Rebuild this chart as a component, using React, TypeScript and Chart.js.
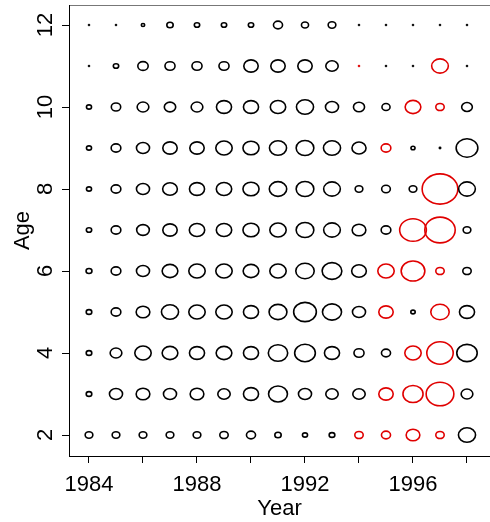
import React, { useEffect, useRef } from 'react';
import { Chart, registerables } from 'chart.js';

Chart.register(...registerables);

const years = [1984, 1985, 1986, 1987, 1988, 1989, 1990, 1991, 1992, 1993, 1994, 1995, 1996, 1997, 1998];
const ages = [2, 3, 4, 5, 6, 7, 8, 9, 10, 11, 12];

// signed residuals (negative drawn red)
const age2 = [0.93, 0.93, 0.93, 0.93, 0.93, 1.0, 1.07, 0.8, 0.67, 0.73, -1.0, -1.07, -1.53, -1.0, 1.87];
const age3 = [0.72, 1.47, 1.53, 1.47, 1.53, 1.4, 1.67, 2.05, 1.47, 1.4, 1.4, -1.6, -2.17, -2.93, 1.33];
const age4 = [0.72, 1.33, 1.8, 1.73, 1.67, 1.73, 1.67, 2.1, 2.23, 1.67, 1.17, 1.07, -1.8, -2.8, 2.2];
const age5 = [0.72, 1.13, 1.53, 1.87, 1.8, 1.8, 1.67, 1.95, 2.43, 2.07, 1.47, -1.6, 0.6, -2.0, 1.67];
const age6 = [0.75, 1.13, 1.47, 1.73, 1.8, 1.8, 1.73, 1.8, 2.0, 2.13, 1.63, -1.8, -2.53, -1.0, 1.0];
const age7 = [0.7, 1.13, 1.43, 1.6, 1.7, 1.7, 1.77, 1.8, 1.93, 1.83, 1.53, 1.13, -2.83, -3.2, 0.93];
const age8 = [0.67, 1.13, 1.47, 1.63, 1.67, 1.7, 1.77, 1.9, 1.93, 1.83, 0.93, 1.03, 0.93, -3.73, 1.83];
const age9 = [0.67, 1.13, 1.47, 1.6, 1.6, 1.8, 1.77, 1.87, 1.93, 1.87, 1.57, -1.13, 0.57, 0.3, 2.33];
const age10 = [0.67, 1.1, 1.33, 1.3, 1.33, 1.67, 1.67, 1.7, 1.87, 1.47, 1.27, 0.97, -1.73, -1.0, 1.23];
const age11 = [0.15, 0.7, 1.2, 1.17, 1.17, 1.17, 1.6, 1.6, 1.6, 1.4, -0.2, 0.15, 0.2, -1.83, 0.15];
const age12 = [0.15, 0.15, 0.5, 0.8, 0.7, 0.7, 0.7, 1.07, 0.87, 0.93, 0.2, 0.15, 0.2, 0.2, 0.2];

const residualsByAge = [age2, age3, age4, age5, age6, age7, age8, age9, age10, age11, age12];

const xLabelYears = [1984, 1988, 1992, 1996];
const yTickLabels = [2, 4, 6, 8, 10, 12];

const FONT = "'Liberation Sans', Arial, Helvetica, sans-serif";
const POS = '#000000';
const NEG = '#e00000';

function ellipseImage(value: number): HTMLCanvasElement {
  const w = Math.abs(value) * 10;
  const rx = Math.max(w / 2 - 0.8, 0.5);
  const ry = rx / 1.18;
  const c = document.createElement('canvas');
  const cw = 2 * Math.ceil(rx + 2);
  const ch = 2 * Math.ceil(ry + 2);
  c.width = cw;
  c.height = ch;
  const g = c.getContext('2d')!;
  g.strokeStyle = value < 0 ? NEG : POS;
  g.lineWidth = 1.6;
  g.beginPath();
  g.ellipse(cw / 2, ch / 2, rx, ry, 0, 0, Math.PI * 2);
  g.stroke();
  return c;
}

const zeroPad = (s: any) => {
  s.paddingTop = 0;
  s.paddingBottom = 0;
  s.paddingLeft = 0;
  s.paddingRight = 0;
};

export default function App() {
  const ref = useRef<HTMLCanvasElement | null>(null);

  useEffect(() => {
    if (!ref.current) return;
    const points: { x: number; y: number; r: number; v: number }[] = [];
    ages.forEach((age, ai) => {
      residualsByAge[ai].forEach((v, yi) => {
        points.push({ x: years[yi], y: age, r: Math.max(Math.abs(v) * 5, 1), v });
      });
    });
    const images = points.map((p) => ellipseImage(p.v));

    const xMin = 1984 - 20 / 27;
    const xMax = xMin + 421 / 27;
    const yMax = 12 + 20 / 41;
    const yMin = yMax - 11;

    const chart = new Chart(ref.current, {
      type: 'bubble',
      data: {
        datasets: [
          {
            data: points,
            pointStyle: (ctx: any) => images[ctx.dataIndex],
            backgroundColor: 'transparent',
            borderColor: (ctx: any) => ((points[ctx.dataIndex]?.v ?? 0) < 0 ? NEG : POS),
            borderWidth: 1.5,
          } as any,
        ],
      },
      options: {
        animation: false,
        responsive: false,
        layout: { padding: 0, autoPadding: false },
        plugins: { legend: { display: false }, tooltip: { enabled: false } },
        scales: {
          x: {
            type: 'linear',
            position: 'bottom',
            min: xMin,
            max: xMax,
            afterFit: (s: any) => { s.height = 66; zeroPad(s); },
            grid: { display: true, drawOnChartArea: false, drawTicks: true, tickLength: 7, color: '#000', lineWidth: 1 },
            border: { display: true, color: '#000', width: 1 },
            ticks: {
              stepSize: 2,
              includeBounds: false,
              autoSkip: false,
              minRotation: 0,
              maxRotation: 0,
              padding: 9,
              color: '#000',
              font: { family: FONT, size: 22 },
              callback: (v: any) => (xLabelYears.includes(Math.round(Number(v))) ? String(Math.round(Number(v))) : ''),
            },
            title: { display: true, text: 'Year', color: '#000', font: { family: FONT, size: 22, lineHeight: 1.1 }, padding: { top: 0, bottom: 1 } },
          },
          xTop: {
            type: 'linear',
            position: 'top',
            min: xMin,
            max: xMax,
            afterFit: (s: any) => { s.height = 5; zeroPad(s); },
            grid: { display: true, drawOnChartArea: false, drawTicks: false },
            border: { display: true, color: '#777', width: 1 },
            ticks: { display: false },
          },
          y: {
            type: 'linear',
            position: 'left',
            min: yMin,
            max: yMax,
            afterFit: (s: any) => { s.width = 69; zeroPad(s); },
            grid: { display: true, drawOnChartArea: false, drawTicks: true, tickLength: 7, color: '#000', lineWidth: 1 },
            border: { display: true, color: '#000', width: 1 },
            ticks: {
              stepSize: 2,
              includeBounds: false,
              autoSkip: false,
              minRotation: 90,
              maxRotation: 90,
              crossAlign: 'center',
              padding: 3.6,
              color: '#000',
              font: { family: FONT, size: 22 },
              callback: (v: any) => (yTickLabels.includes(Math.round(Number(v))) ? String(Math.round(Number(v))) : ''),
            },
            title: { display: true, text: 'Age', color: '#000', font: { family: FONT, size: 22, lineHeight: 1.1 }, padding: { top: 11, bottom: 0 } },
          },
        },
      } as any,
    });
    return () => chart.destroy();
  }, []);

  return (
    <div style={{ position: 'fixed', left: 0, top: 0, width: 490, height: 522, background: '#fff' }}>
      <canvas ref={ref} width={490} height={522} style={{ display: 'block' }} />
    </div>
  );
}
